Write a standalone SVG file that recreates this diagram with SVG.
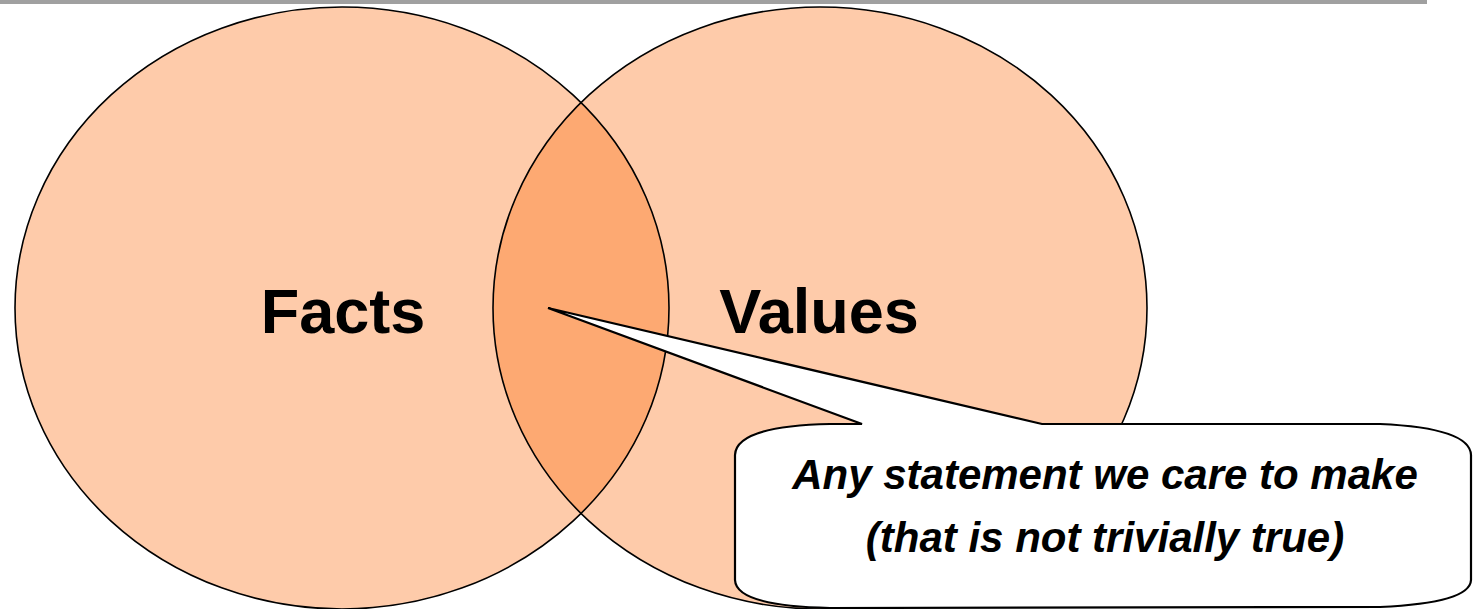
<svg xmlns="http://www.w3.org/2000/svg" width="1474" height="609" viewBox="0 0 1474 609">
  <style>
    .ring { fill: #FECBAA; }
    .lens { fill: #FDA972; }
    .outline { fill: none; stroke: #000; stroke-width: 1.6; }
    .label { font-family: "Liberation Sans", Arial, sans-serif; font-weight: bold; fill: #000; }
    .big { font-size: 63px; }
    .note { font-size: 42px; font-style: italic; }
    .callout { fill: #FFFFFF; stroke: #000; stroke-width: 2.2; stroke-linejoin: miter; }
  </style>
  <defs>
    <clipPath id="clipFacts">
      <ellipse cx="342" cy="308" rx="327" ry="301"/>
    </clipPath>
  </defs>

  <!-- header rule -->
  <rect x="0" y="0" width="1427" height="4" fill="#A0A0A0"/>

  <g id="facts">
    <ellipse class="ring" cx="342" cy="308" rx="327" ry="301"/>
  </g>
  <g id="values">
    <ellipse class="ring" cx="820" cy="308" rx="327" ry="301"/>
  </g>
  <g id="overlap">
    <ellipse class="lens" cx="820" cy="308" rx="327" ry="301" clip-path="url(#clipFacts)"/>
  </g>
  <g id="outlines">
    <ellipse class="outline" cx="342" cy="308" rx="327" ry="301"/>
    <ellipse class="outline" cx="820" cy="308" rx="327" ry="301"/>
  </g>

  <text class="label big" x="343" y="333" text-anchor="middle">Facts</text>
  <text class="label big" x="819" y="333" text-anchor="middle">Values</text>

  <!-- speech bubble pointing into the overlap -->
  <g id="statement">
    <path class="callout" d="M862,424 L548,308 L1042,424 L1380,424 Q1470,428 1471,455 L1471,580 Q1470,603 1380,607 L830,608 Q736,606 735,580 L735,455 Q736,426 830,424 Z"/>
    <text class="label note" x="1105" y="489" text-anchor="middle">Any statement we care to make</text>
    <text class="label note" x="1105" y="552" text-anchor="middle">(that is not trivially true)</text>
  </g>
</svg>
